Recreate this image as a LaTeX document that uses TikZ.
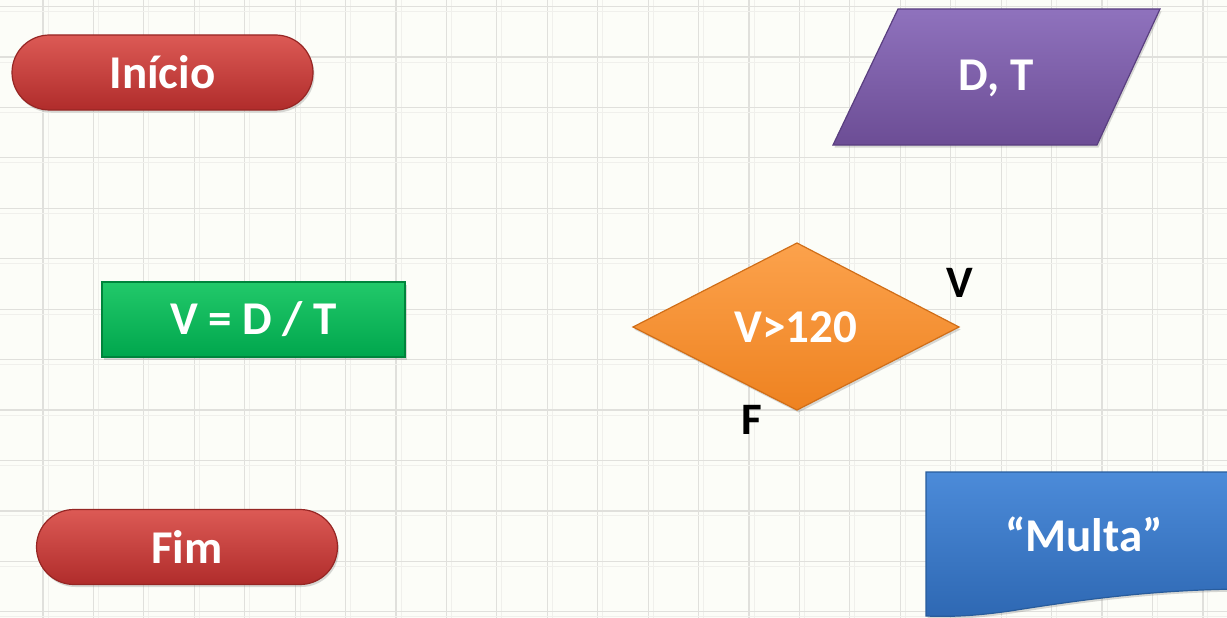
\documentclass[tikz,border=0pt]{standalone}
\usepackage{fontspec}
\setmainfont{Carlito}
\usetikzlibrary{shadows,shapes.misc}
\definecolor{bg}{HTML}{FCFDF8}
\definecolor{gridc}{HTML}{E0E0DC}
\definecolor{gridf}{HTML}{F0F0EC}
\definecolor{redT}{HTML}{DC5A55}
\definecolor{redB}{HTML}{B02C2B}
\definecolor{redE}{HTML}{962624}
\definecolor{purT}{HTML}{8F72BD}
\definecolor{purB}{HTML}{6C4D95}
\definecolor{purE}{HTML}{5A3F80}
\definecolor{grnT}{HTML}{22C96A}
\definecolor{grnB}{HTML}{00A64D}
\definecolor{grnE}{HTML}{00843C}
\definecolor{orT}{HTML}{FCA24C}
\definecolor{orB}{HTML}{EE8220}
\definecolor{orE}{HTML}{D06E18}
\definecolor{bluT}{HTML}{4C8BD9}
\definecolor{bluB}{HTML}{2E68B3}
\definecolor{bluE}{HTML}{285C9C}
\tikzset{
  shp/.style={line width=1.2pt, drop shadow={opacity=0.3,shadow xshift=1.5pt,shadow yshift=-2.5pt}},
  redshape/.style={shp, draw=redE, top color=redT, bottom color=redB},
  purshape/.style={shp, draw=purE, top color=purT, bottom color=purB},
  grnshape/.style={shp, draw=grnE, top color=grnT, bottom color=grnB},
  orshape/.style={shp, draw=orE, top color=orT, bottom color=orB},
  blushape/.style={shp, draw=bluE, top color=bluT, bottom color=bluB},
  wtxt/.style={text=white, font=\fontsize{47}{52}\selectfont\bfseries, inner sep=0pt},
  btxt/.style={text=black, font=\fontsize{45}{50}\selectfont\bfseries, inner sep=0pt},
}
\begin{document}
\begin{tikzpicture}[x=1pt,y=-1pt]
\useasboundingbox (0,0) rectangle (1227,618);
\fill[bg] (0,0) rectangle (1227,618);
% grid
\foreach \k in {0,...,24} {
  \draw[gridf, line width=1pt] ({48+50.43*\k},0) -- ({48+50.43*\k},618);
  \draw[gridc, line width=1.2pt] ({43+50.43*\k},0) -- ({43+50.43*\k},618);
}
\foreach \k in {0,...,12} {
  \draw[gridf, line width=1pt] (0,{11.6+50.43*\k}) -- (1227,{11.6+50.43*\k});
  \draw[gridc, line width=1.2pt] (0,{6.6+50.43*\k}) -- (1227,{6.6+50.43*\k});
}
% Inicio
\node[redshape, rounded rectangle, minimum width=301pt, minimum height=75pt, inner sep=0pt] (inicio) at (162.5,72.5) {};
\node[wtxt] (tinicio) at (inicio.center) {Início};
% Fim
\node[redshape, rounded rectangle, minimum width=301pt, minimum height=75pt, inner sep=0pt] (fim) at (187,547) {};
\node[wtxt] (tfim) at (fim.center) {Fim};
% D, T parallelogram
\path[purshape] (898,9) -- (1160,9) -- (1097,145) -- (833,145) -- cycle;
\node[wtxt] (tdt) at (996,78) {D, T};
% V = D / T
\node[grnshape, rectangle, minimum width=303pt, minimum height=75pt, inner sep=0pt] (calc) at (253.5,319.5) {};
\node[wtxt] (tcalc) at (calc.center) {V = D / T};
% Diamond
\path[orshape] (633,327) -- (797,243) -- (959,327) -- (797,410) -- cycle;
\node[wtxt] (tdec) at (796,327) {V>120};
\node[btxt] (lv) at (960,283) {V};
\node[btxt] (lf) at (752,420) {F};
% Multa document
\path[blushape] (926,472) -- (1240,472) -- (1240,589)
  .. controls (1150,590) and (1080,600) .. (1010,611)
  .. controls (975,616) and (950,617) .. (926,616) -- cycle;
\node[wtxt] (tmulta) at (1084,534) {“Multa”};
\end{tikzpicture}
\end{document}
